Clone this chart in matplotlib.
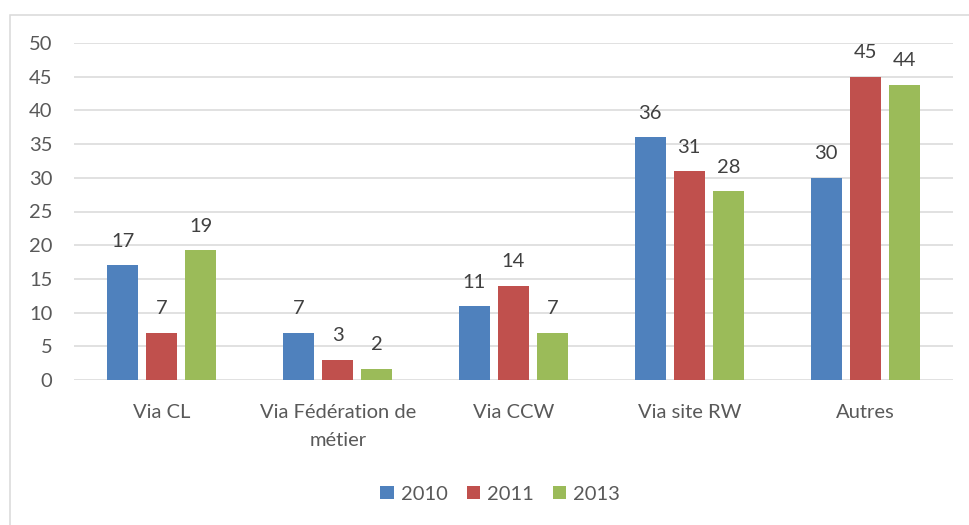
import matplotlib
matplotlib.use("Agg")
import matplotlib.pyplot as plt
from matplotlib.patches import Rectangle, Patch
import numpy as np

plt.rcParams['font.family'] = ['Lato', 'DejaVu Sans']

categories = ["Via CL", "Via Fédération de\nmétier", "Via CCW", "Via site RW", "Autres"]
years = ["2010", "2011", "2013"]
v2010 = [17, 7, 11, 36, 30]
v2011 = [7, 3, 14, 31, 45]
v2013 = [19.3, 1.7, 7, 28, 43.8]
series = [v2010, v2011, v2013]
colors = ["#4F81BD", "#C0504D", "#9BBB59"]
yticks = [0, 5, 10, 15, 20, 25, 30, 35, 40, 45, 50]

W, H = 969, 525
fig = plt.figure(figsize=(W / 100, H / 100), dpi=100)
ax = fig.add_axes([74 / W, 1 - 380 / H, (953 - 74) / W, (380 - 43) / H])

x = np.arange(len(categories))
step = 0.222
width = 0.176
fs = 14.5
for i, (vals, c) in enumerate(zip(series, colors)):
    pos = x + (i - 1) * step
    ax.bar(pos, vals, width=width, color=c, zorder=3, label=years[i])
    for px, v in zip(pos, vals):
        ax.annotate(f"{v:.0f}", (px, v), xytext=(0, 13.2), textcoords='offset points',
                    ha='center', va='baseline', fontsize=fs, color='#404040')

ax.set_xlim(-0.5, len(categories) - 0.5)
ax.set_ylim(0, 50)
ax.set_yticks(yticks)
ax.set_yticklabels([str(t) for t in yticks])
ax.set_xticks(x)
ax.set_xticklabels(categories, linespacing=1.75)
ax.tick_params(axis='y', length=0, pad=15.5, labelsize=fs, labelcolor='#595959')
ax.tick_params(axis='x', length=0, pad=17.5, labelsize=fs, labelcolor='#595959')
ax.grid(axis='y', color='#D9D9D9', linewidth=1.1, zorder=0)
ax.set_axisbelow(True)
for s in ax.spines.values():
    s.set_visible(False)

fig.patches.append(Rectangle((9.5 / W, -0.1), 1.2, 1 - 14.5 / H + 0.1, transform=fig.transFigure,
                             fill=False, edgecolor='#D9D9D9', linewidth=1.1))

handles = [Patch(facecolor=c, edgecolor='none') for c in colors]
leg = fig.legend(handles, years, loc='center', bbox_to_anchor=(500 / W, 1 - 494 / H), ncol=3,
                 frameon=False, handlelength=0.65, handleheight=0.65, handletextpad=0.35,
                 columnspacing=0.95, fontsize=fs)
for t in leg.get_texts():
    t.set_color('#595959')

fig.savefig("out.png", dpi=100)
